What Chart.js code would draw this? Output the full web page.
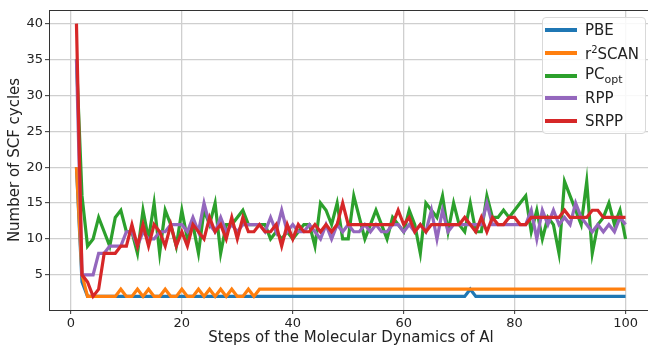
<!DOCTYPE html>
<html>
<head>
<meta charset="utf-8">
<script src="https://cdn.jsdelivr.net/npm/chart.js@4.4.1/dist/chart.umd.min.js"></script>
<style>
  html, body { margin: 0; padding: 0; background: #fff; overflow: hidden; }
  #wrap { position: relative; width: 656px; height: 347px; }
  #legend {
    position: absolute; left: 542px; top: 17px; width: 104px; height: 117px;
    box-sizing: border-box; border: 1px solid #d9d9d9; border-radius: 4px;
    background: rgba(255,255,255,0.85); font-family: 'DejaVu Sans', sans-serif;
    font-size: 15px; color: #222; padding-top: 1px;
  }
  .row { display: flex; align-items: center; height: 22.7px; white-space: nowrap; }
  .swatch { width: 32px; height: 4px; margin-left: 2px; margin-right: 8px; flex: none; }
  sub { font-size: 11px; vertical-align: -4px; }
  sup { font-size: 10px; vertical-align: 6px; }
</style>
</head>
<body>
<div id="wrap">
  <canvas id="myChart" width="656" height="347"></canvas>
  <div id="legend"></div>
</div>
<script>
  // steps of the MD run
  const steps = [
    1, 2, 3, 4, 5, 6, 7, 8, 9, 10,
    11, 12, 13, 14, 15, 16, 17, 18, 19, 20,
    21, 22, 23, 24, 25, 26, 27, 28, 29, 30,
    31, 32, 33, 34, 35, 36, 37, 38, 39, 40,
    41, 42, 43, 44, 45, 46, 47, 48, 49, 50,
    51, 52, 53, 54, 55, 56, 57, 58, 59, 60,
    61, 62, 63, 64, 65, 66, 67, 68, 69, 70,
    71, 72, 73, 74, 75, 76, 77, 78, 79, 80,
    81, 82, 83, 84, 85, 86, 87, 88, 89, 90,
    91, 92, 93, 94, 95, 96, 97, 98, 99, 100
  ]

  const pbe = [
    20, 4, 2, 2, 2, 2, 2, 2, 2, 2,
    2, 2, 2, 2, 2, 2, 2, 2, 2, 2,
    2, 2, 2, 2, 2, 2, 2, 2, 2, 2,
    2, 2, 2, 2, 2, 2, 2, 2, 2, 2,
    2, 2, 2, 2, 2, 2, 2, 2, 2, 2,
    2, 2, 2, 2, 2, 2, 2, 2, 2, 2,
    2, 2, 2, 2, 2, 2, 2, 2, 2, 2,
    2, 3, 2, 2, 2, 2, 2, 2, 2, 2,
    2, 2, 2, 2, 2, 2, 2, 2, 2, 2,
    2, 2, 2, 2, 2, 2, 2, 2, 2, 2
  ]

  const r2scan = [
    20, 5, 2, 2, 2, 2, 2, 2, 3, 2,
    2, 3, 2, 3, 2, 2, 3, 2, 2, 3,
    2, 2, 3, 2, 3, 2, 3, 2, 3, 2,
    2, 3, 2, 3, 3, 3, 3, 3, 3, 3,
    3, 3, 3, 3, 3, 3, 3, 3, 3, 3,
    3, 3, 3, 3, 3, 3, 3, 3, 3, 3,
    3, 3, 3, 3, 3, 3, 3, 3, 3, 3,
    3, 3, 3, 3, 3, 3, 3, 3, 3, 3,
    3, 3, 3, 3, 3, 3, 3, 3, 3, 3,
    3, 3, 3, 3, 3, 3, 3, 3, 3, 3
  ]

  const pcopt = [
    35, 16, 9, 10, 13, 11, 9, 13, 14, 11,
    11, 8, 14, 10, 15, 8, 14, 12, 9, 14,
    10, 12, 8, 14, 12, 15, 8, 12, 12, 13,
    14, 12, 12, 12, 12, 10, 11, 10, 11, 10,
    11, 12, 12, 9, 15, 14, 12, 15, 10, 10,
    16, 13, 10, 12, 14, 12, 10, 13, 12, 11,
    14, 12, 8, 15, 14, 13, 16, 11, 15, 12,
    11, 15, 11, 11, 16, 13, 13, 14, 13, 14,
    15, 16, 11, 14, 10, 13, 12, 8, 18, 16,
    14, 12, 18, 8, 12, 13, 15, 12, 14, 10
  ]

  const rpp = [
    35, 5, 5, 5, 8, 8, 9, 9, 9, 11,
    11, 9, 11, 10, 10, 11, 11, 12, 12, 12,
    11, 13, 11, 15, 12, 11, 13, 11, 12, 11,
    12, 12, 12, 12, 11, 13, 11, 14, 11, 12,
    11, 11, 12, 11, 10, 12, 10, 12, 11, 12,
    11, 11, 12, 11, 12, 11, 11, 12, 12, 11,
    12, 11, 12, 11, 14, 10, 14, 11, 12, 12,
    12, 12, 12, 12, 15, 12, 12, 12, 12, 12,
    12, 12, 14, 10, 14, 12, 14, 12, 13, 12,
    15, 13, 12, 11, 12, 11, 12, 11, 13, 12
  ]

  const srpp = [
    40, 5, 4, 2, 3, 8, 8, 8, 9, 9,
    12, 9, 12, 9, 12, 11, 9, 12, 9, 11,
    9, 12, 11, 10, 13, 11, 12, 10, 13, 10,
    13, 11, 11, 12, 11, 11, 12, 9, 12, 10,
    12, 11, 11, 12, 11, 12, 11, 12, 15, 12,
    12, 12, 12, 12, 12, 12, 12, 12, 14, 12,
    13, 11, 12, 11, 12, 12, 12, 12, 12, 12,
    13, 12, 11, 13, 11, 13, 12, 12, 13, 13,
    12, 12, 13, 13, 13, 13, 13, 13, 14, 13,
    13, 13, 13, 14, 14, 13, 13, 13, 13, 13
  ]

  const seriesNames = ['PBE', 'r²SCAN', 'PC_opt', 'RPP', 'SRPP']
  const legendLabels = ['PBE', 'r<sup>2</sup>SCAN', 'PC<sub>opt</sub>', 'RPP', 'SRPP']
  const seriesData = [pbe, r2scan, pcopt, rpp, srpp]
  const colors = ['#1f77b4', '#ff7f0e', '#2ca02c', '#9467bd', '#d62728']

  const xTicks = [0, 20, 40, 60, 80, 100]
  const yTicks = [5, 10, 15, 20, 25, 30, 35, 40]

  const tickFont = { family: 'DejaVu Sans', size: 13 }
  const titleFont = { family: 'DejaVu Sans', size: 15 }

  // box around the plot area, like matplotlib spines
  const frame = {
    id: 'frame',
    afterDraw(chart) {
      const { ctx, chartArea: a } = chart
      ctx.save()
      ctx.strokeStyle = '#333'
      ctx.lineWidth = 1
      ctx.strokeRect(a.left + 0.5, a.top + 0.5, a.right - a.left, a.bottom - a.top)
      ctx.restore()
    }
  }

  const datasets = seriesNames.map((name, k) => ({
    label: name,
    data: steps.map((s, i) => ({ x: s, y: seriesData[k][i] })),
    borderColor: colors[k],
    backgroundColor: colors[k],
    borderWidth: 3.2,
    pointRadius: 0,
    tension: 0,
    order: seriesNames.length - k
  }))

  const ctx = document.getElementById('myChart')
  const myChart = new Chart(ctx, {
    type: 'line',
    data: { datasets: datasets },
    plugins: [frame],
    options: {
      responsive: false,
      animation: false,
      events: [],
      layout: { padding: { top: 10, right: 3, left: 0, bottom: 0 } },
      plugins: { legend: { display: false }, tooltip: { enabled: false } },
      scales: {
        x: {
          type: 'linear',
          min: -3.95,
          max: 104.95,
          afterFit: (scale) => { scale.height = 37 },
          afterBuildTicks: (scale) => { scale.ticks = xTicks.map(v => ({ value: v })) },
          ticks: { font: tickFont, color: '#222', padding: 2, maxRotation: 0, callback: (v) => String(v) },
          grid: { color: '#cfcfcf', lineWidth: 1.3, tickLength: 4, tickColor: '#333', tickWidth: 1 },
          border: { display: false },
          title: { display: true, text: 'Steps of the Molecular Dynamics of Al', font: titleFont, color: '#222', padding: { top: 0, bottom: 0 } }
        },
        y: {
          min: 0.1,
          max: 41.9,
          afterFit: (scale) => { scale.width = 49 },
          afterBuildTicks: (scale) => { scale.ticks = yTicks.map(v => ({ value: v })) },
          ticks: { font: tickFont, color: '#222', padding: 2, callback: (v) => String(v) },
          grid: { color: '#cfcfcf', lineWidth: 1.3, tickLength: 4, tickColor: '#333', tickWidth: 1 },
          border: { display: false },
          title: { display: true, text: 'Number of SCF cycles', font: titleFont, color: '#222', padding: { top: 6, bottom: 0 } }
        }
      }
    }
  })

  // legend as html, so the sub/superscripts render
  const legend = document.getElementById('legend')
  legendLabels.forEach((lbl, k) => {
    const row = document.createElement('div')
    row.className = 'row'
    row.innerHTML = '<span class="swatch" style="background:' + colors[k] + '"></span><span>' + lbl + '</span>'
    legend.appendChild(row)
  })
</script>
</body>
</html>
